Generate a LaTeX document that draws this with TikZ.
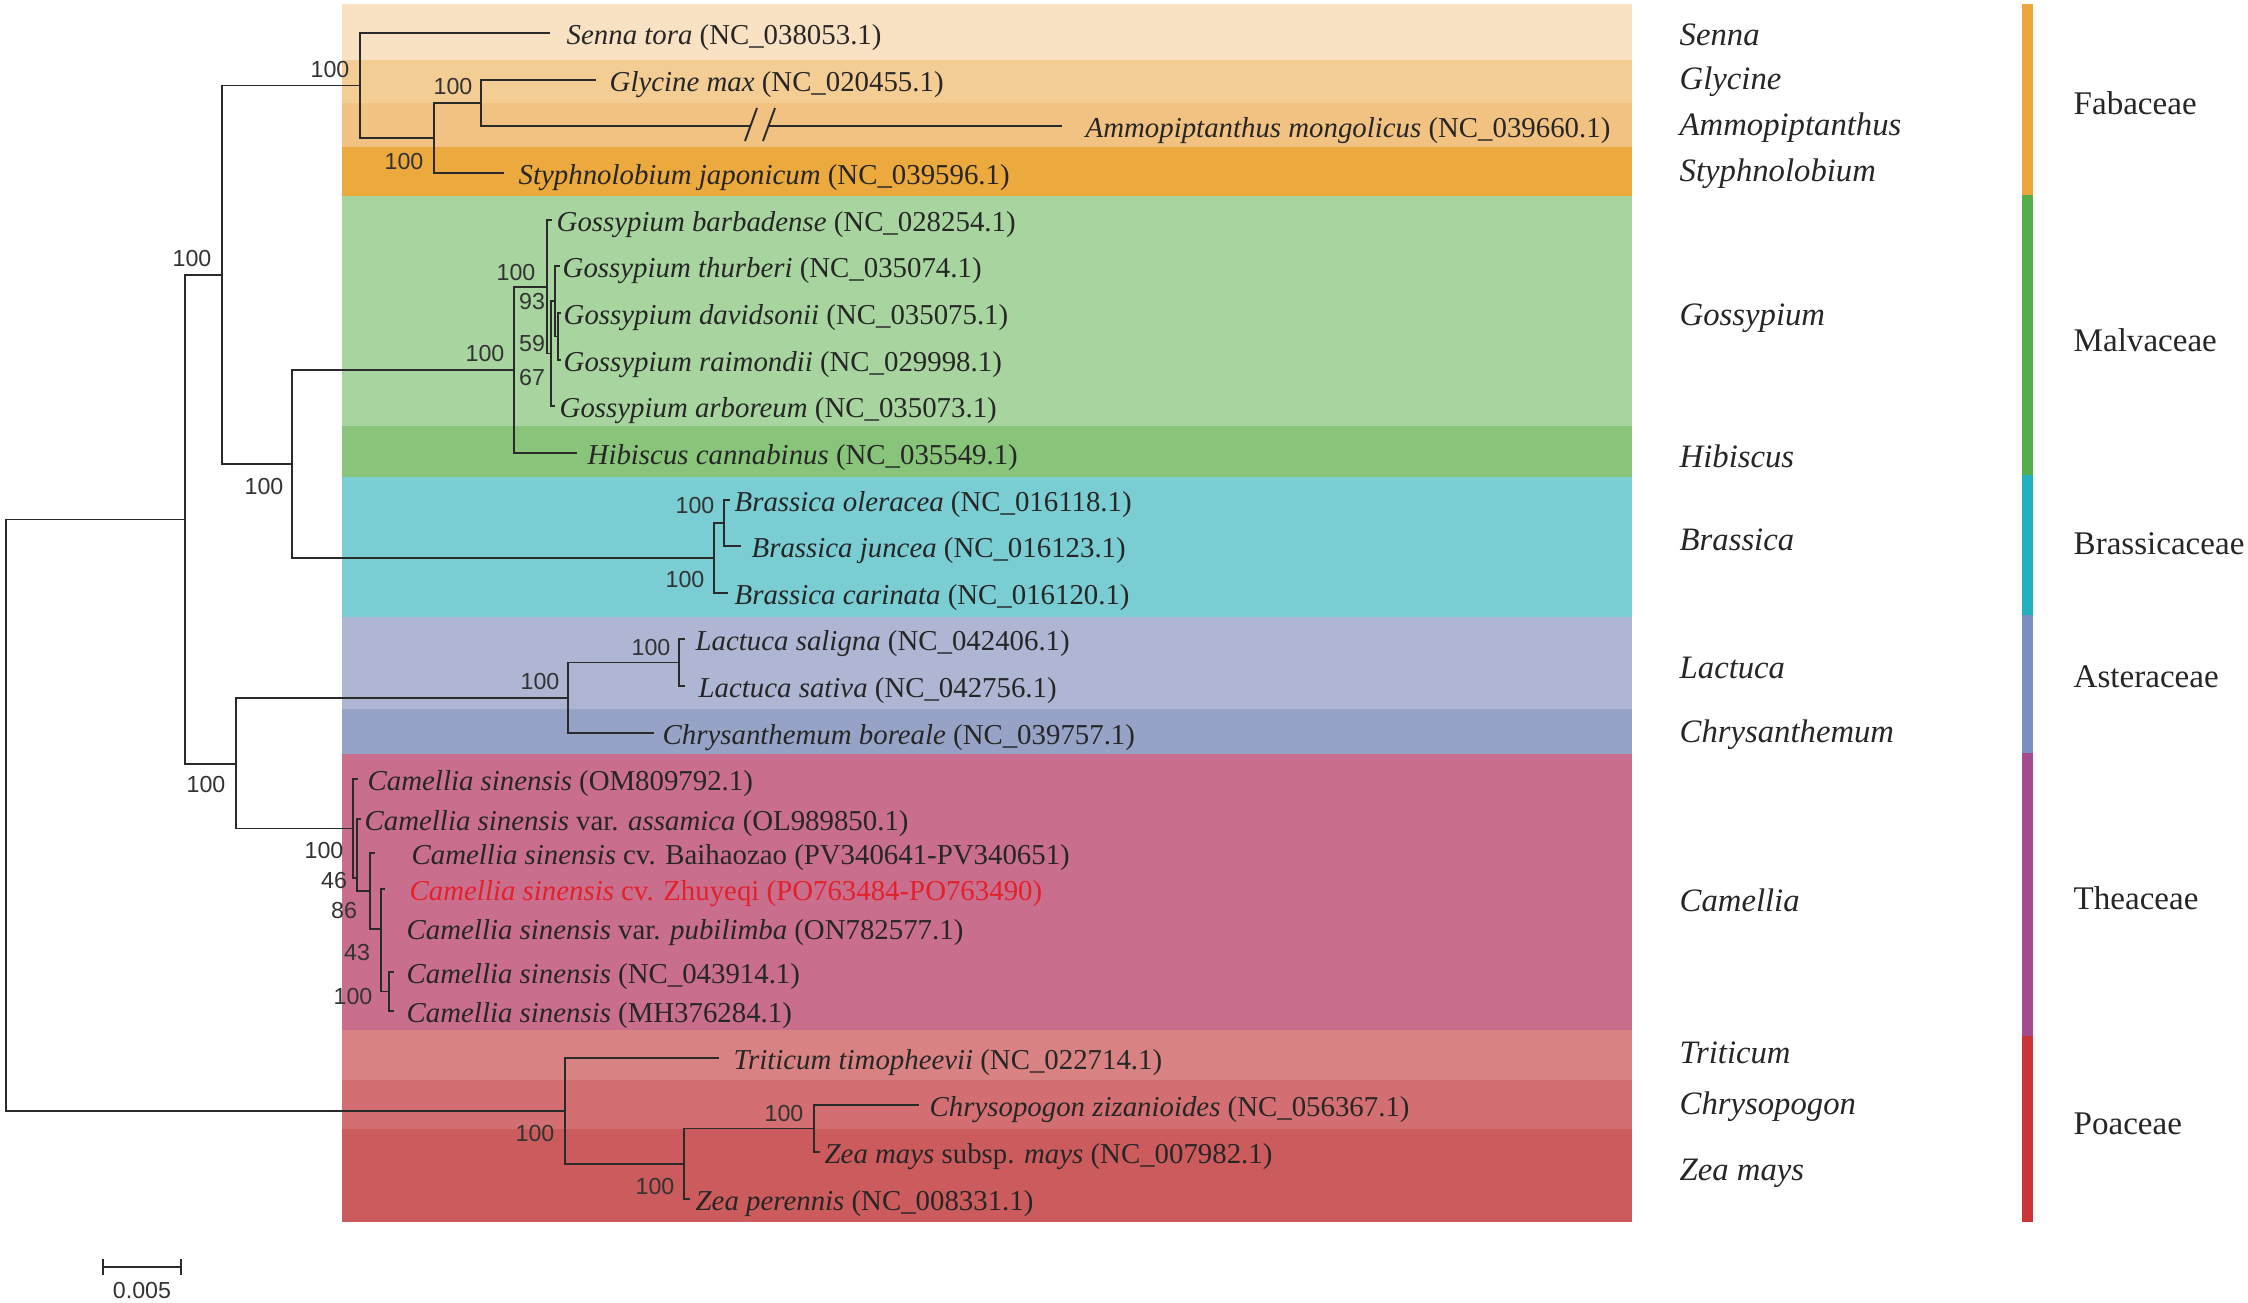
\documentclass[tikz,border=0pt]{standalone}
\usepackage{fontspec}
\setmainfont{Liberation Serif}
\newfontfamily\sansnum{Liberation Sans}
\definecolor{cSenna}{HTML}{F9E2C3}
\definecolor{cGly}{HTML}{F4CD95}
\definecolor{cAmmo}{HTML}{F1C281}
\definecolor{cStyph}{HTML}{ECA93E}
\definecolor{cGoss}{HTML}{A8D59F}
\definecolor{cHib}{HTML}{89C47B}
\definecolor{cBras}{HTML}{79CDD3}
\definecolor{cLact}{HTML}{AFB6D4}
\definecolor{cChrys}{HTML}{96A3C7}
\definecolor{cCam}{HTML}{C96E8D}
\definecolor{cTrit}{HTML}{D88283}
\definecolor{cChp}{HTML}{D36F72}
\definecolor{cZea}{HTML}{CB5B5C}
\definecolor{bFab}{HTML}{EEA53B}
\definecolor{bMal}{HTML}{55AE4B}
\definecolor{bBra}{HTML}{21B1BF}
\definecolor{bAst}{HTML}{7C8DC4}
\definecolor{bThe}{HTML}{A54A8F}
\definecolor{bPoa}{HTML}{CC3535}
\definecolor{treeline}{HTML}{2A2A2A}
\definecolor{bsgray}{HTML}{333333}
\definecolor{zred}{HTML}{E5202B}
\newcommand{\leaffont}{\fontsize{8.2}{9}\selectfont}
\newcommand{\bsfont}{\sansnum\fontsize{6.6}{7}\selectfont}
\newcommand{\genusfont}{\fontsize{9.3}{10}\selectfont\itshape}
\newcommand{\famfont}{\fontsize{9.4}{10}\selectfont}
\begin{document}
\begin{tikzpicture}[x=0.01cm,y=-0.01cm,
  br/.style={draw=treeline, line width=0.55pt},
  leaf/.style={anchor=west, inner sep=0pt, yshift=-0.03cm, font=\leaffont, text=black!85, text height=0.69em, text depth=0.18em},
  bs/.style={inner sep=0pt, font=\bsfont, text=bsgray},
  genus/.style={anchor=west, inner sep=0pt, yshift=-0.03cm, font=\genusfont, text=black!85},
  fam/.style={anchor=west, inner sep=0pt, font=\famfont, text=black!85}]
\useasboundingbox (0,0) rectangle (2248,1302);
\fill[white] (0,0) rectangle (2248,1302);
% colour bands
\fill[cSenna] (342,4) rectangle (1632,60);
\fill[cGly] (342,60) rectangle (1632,103);
\fill[cAmmo] (342,103) rectangle (1632,147);
\fill[cStyph] (342,147) rectangle (1632,196);
\fill[cGoss] (342,196) rectangle (1632,426);
\fill[cHib] (342,426) rectangle (1632,477);
\fill[cBras] (342,477) rectangle (1632,617);
\fill[cLact] (342,617) rectangle (1632,709);
\fill[cChrys] (342,709) rectangle (1632,754);
\fill[cCam] (342,754) rectangle (1632,1030);
\fill[cTrit] (342,1030) rectangle (1632,1080);
\fill[cChp] (342,1080) rectangle (1632,1129);
\fill[cZea] (342,1129) rectangle (1632,1222);
% family bars
\fill[bFab] (2022,4) rectangle (2033,195);
\fill[bMal] (2022,195) rectangle (2033,475);
\fill[bBra] (2022,475) rectangle (2033,615);
\fill[bAst] (2022,615) rectangle (2033,753);
\fill[bThe] (2022,753) rectangle (2033,1036);
\fill[bPoa] (2022,1036) rectangle (2033,1222);
% leaf labels
\node[leaf] (tSenna) at (566,33) {\textit{Senna tora} (NC\_038053.1)};
\node[leaf] (tGly) at (609,80) {\textit{Glycine max} (NC\_020455.1)};
\node[leaf] (tAmmo) at (1085,126) {\textit{Ammopiptanthus mongolicus} (NC\_039660.1)};
\node[leaf] (tStyph) at (518,173) {\textit{Styphnolobium japonicum} (NC\_039596.1)};
\node[leaf] (tGbar) at (556,220) {\textit{Gossypium barbadense} (NC\_028254.1)};
\node[leaf] (tGthu) at (562,266) {\textit{Gossypium thurberi} (NC\_035074.1)};
\node[leaf] (tGdav) at (563,313) {\textit{Gossypium davidsonii} (NC\_035075.1)};
\node[leaf] (tGrai) at (563,360) {\textit{Gossypium raimondii} (NC\_029998.1)};
\node[leaf] (tGarb) at (559,406) {\textit{Gossypium arboreum} (NC\_035073.1)};
\node[leaf] (tHib) at (587,453) {\textit{Hibiscus cannabinus} (NC\_035549.1)};
\node[leaf] (tBole) at (734,500) {\textit{Brassica oleracea} (NC\_016118.1)};
\node[leaf] (tBjun) at (751,546) {\textit{Brassica juncea} (NC\_016123.1)};
\node[leaf] (tBcar) at (734,593) {\textit{Brassica carinata} (NC\_016120.1)};
\node[leaf] (tLsal) at (695,639) {\textit{Lactuca saligna} (NC\_042406.1)};
\node[leaf] (tLsat) at (698,686) {\textit{Lactuca sativa} (NC\_042756.1)};
\node[leaf] (tChry) at (662,733) {\textit{Chrysanthemum boreale} (NC\_039757.1)};
\node[leaf] (tCamOM) at (367,779) {\textit{Camellia sinensis} (OM809792.1)};
\node[leaf] (tCamAs) at (364,819) {\textit{Camellia sinensis} var. \textit{assamica} (OL989850.1)};
\node[leaf] (tCamBa) at (411,853) {\textit{Camellia sinensis} cv. Baihaozao (PV340641-PV340651)};
\node[leaf, text=zred] (tCamZh) at (409,889) {\textit{Camellia sinensis} cv. Zhuyeqi (PO763484-PO763490)};
\node[leaf] (tCamPu) at (406,928) {\textit{Camellia sinensis} var. \textit{pubilimba} (ON782577.1)};
\node[leaf] (tCamNC) at (406,972) {\textit{Camellia sinensis} (NC\_043914.1)};
\node[leaf] (tCamMH) at (406,1011) {\textit{Camellia sinensis} (MH376284.1)};
\node[leaf] (tTrit) at (733,1058) {\textit{Triticum timopheevii} (NC\_022714.1)};
\node[leaf] (tChp) at (929,1105) {\textit{Chrysopogon zizanioides} (NC\_056367.1)};
\node[leaf] (tZmay) at (824,1152) {\textit{Zea mays} subsp. \textit{mays} (NC\_007982.1)};
\node[leaf] (tZper) at (695,1199) {\textit{Zea perennis} (NC\_008331.1)};
% leaf ends
\coordinate (eSenna) at (550,33);
\coordinate (eGly) at (596,80);
\coordinate (eAmA) at (750,126);
\coordinate (eAmB) at (768,126);
\coordinate (eAmmo) at (1062,126);
\coordinate (eStyph) at (504,173);
\coordinate (eGbar) at (552,220);
\coordinate (eGthu) at (560,266);
\coordinate (eGdav) at (561,313);
\coordinate (eGrai) at (561,360);
\coordinate (eGarb) at (555,406);
\coordinate (eHib) at (577,453);
\coordinate (eBole) at (730,500);
\coordinate (eBjun) at (741,546);
\coordinate (eBcar) at (728,593);
\coordinate (eLsal) at (685,639);
\coordinate (eLsat) at (685,686);
\coordinate (eChry) at (654,733);
\coordinate (eCamOM) at (358,779);
\coordinate (eCamAs) at (361,819);
\coordinate (eCamBa) at (375,853);
\coordinate (eCamZh) at (385,889);
\coordinate (eCamNC) at (394,972);
\coordinate (eCamMH) at (394,1011);
\coordinate (eTrit) at (719,1058);
\coordinate (eChp) at (919,1105);
\coordinate (eZmay) at (820,1152);
\coordinate (eZper) at (690,1199);
% internal nodes
\coordinate (F3) at (481,103);
\coordinate (F2) at (434,138);
\coordinate (F) at (360,85.5);
\coordinate (G4) at (558,336.5);
\coordinate (G3) at (555,301);
\coordinate (G2) at (551,353.5);
\coordinate (G1) at (547,287);
\coordinate (M) at (514,370);
\coordinate (B2) at (724,523);
\coordinate (B) at (714,558);
\coordinate (MB) at (292,464);
\coordinate (R) at (222,275);
\coordinate (L) at (679,662.5);
\coordinate (A) at (568,698);
\coordinate (C4) at (389,991.5);
\coordinate (C3) at (381,929);
\coordinate (C2) at (370,891);
\coordinate (C1) at (357,878);
\coordinate (C0) at (353,828.5);
\coordinate (AT) at (236,764);
\coordinate (D) at (185,519.5);
\coordinate (P3) at (814,1128.5);
\coordinate (P2) at (684,1164);
\coordinate (P) at (565,1111);
\coordinate (Root) at (6,815);
% branches
\draw[br] (Root) |- (D);
\draw[br] (Root) |- (P);
\draw[br] (D) |- (R);
\draw[br] (D) |- (AT);
\draw[br] (R) |- (F);
\draw[br] (R) |- (MB);
\draw[br] (F) |- (eSenna);
\draw[br] (F) |- (F2);
\draw[br] (F2) |- (F3);
\draw[br] (F2) |- (eStyph);
\draw[br] (F3) |- (eGly);
\draw[br] (F3) |- (eAmA);
\draw[br] (eAmB) -- (eAmmo);
\coordinate (s1a) at (745,141); \coordinate (s1b) at (757,108);
\coordinate (s2a) at (763,141); \coordinate (s2b) at (775,108);
\draw[br] (s1a) -- (s1b);
\draw[br] (s2a) -- (s2b);
\draw[br] (MB) |- (M);
\draw[br] (MB) |- (B);
\draw[br] (M) |- (G1);
\draw[br] (M) |- (eHib);
\draw[br] (G1) |- (eGbar);
\draw[br] (G1) |- (G2);
\draw[br] (G2) |- (G3);
\draw[br] (G2) |- (eGarb);
\draw[br] (G3) |- (eGthu);
\draw[br] (G3) |- (G4);
\draw[br] (G4) |- (eGdav);
\draw[br] (G4) |- (eGrai);
\draw[br] (B) |- (B2);
\draw[br] (B) |- (eBcar);
\draw[br] (B2) |- (eBole);
\draw[br] (B2) |- (eBjun);
\draw[br] (AT) |- (A);
\draw[br] (AT) |- (C0);
\draw[br] (A) |- (L);
\draw[br] (A) |- (eChry);
\draw[br] (L) |- (eLsal);
\draw[br] (L) |- (eLsat);
\draw[br] (C0) |- (eCamOM);
\draw[br] (C0) |- (C1);
\draw[br] (C1) |- (eCamAs);
\draw[br] (C1) |- (C2);
\draw[br] (C2) |- (eCamBa);
\draw[br] (C2) |- (C3);
\draw[br] (C3) |- (eCamZh);
\draw[br] (C3) |- (C4);
\draw[br] (C4) |- (eCamNC);
\draw[br] (C4) |- (eCamMH);
\draw[br] (P) |- (eTrit);
\draw[br] (P) |- (P2);
\draw[br] (P2) |- (P3);
\draw[br] (P2) |- (eZper);
\draw[br] (P3) |- (eChp);
\draw[br] (P3) |- (eZmay);
% bootstrap values
\node[bs] (b1) at (330,69) {100};
\node[bs] (b2) at (453,86) {100};
\node[bs] (b3) at (404,161) {100};
\node[bs] (b4) at (192,258) {100};
\node[bs] (b5) at (264,486) {100};
\node[bs] (b6) at (516,272) {100};
\node[bs] (b7) at (485,353) {100};
\node[bs] (b8) at (532,301) {93};
\node[bs] (b9) at (532,343) {59};
\node[bs] (b10) at (532,377) {67};
\node[bs] (b11) at (695,505) {100};
\node[bs] (b12) at (685,579) {100};
\node[bs] (b13) at (651,647) {100};
\node[bs] (b14) at (540,681) {100};
\node[bs] (b15) at (206,784) {100};
\node[bs] (b16) at (324,850) {100};
\node[bs] (b17) at (334,880) {46};
\node[bs] (b18) at (344,910) {86};
\node[bs] (b19) at (357,952) {43};
\node[bs] (b20) at (353,996) {100};
\node[bs] (b21) at (784,1113) {100};
\node[bs] (b22) at (535,1133) {100};
\node[bs] (b23) at (655,1186) {100};
% genus labels
\node[genus] (gSenna) at (1679,32) {Senna};
\node[genus] (gGly) at (1679,79) {Glycine};
\node[genus] (gAmmo) at (1679,125) {Ammopiptanthus};
\node[genus] (gStyph) at (1679,171) {Styphnolobium};
\node[genus] (gGoss) at (1679,315) {Gossypium};
\node[genus] (gHib) at (1679,453) {Hibiscus};
\node[genus] (gBras) at (1679,537) {Brassica};
\node[genus] (gLact) at (1679,665) {Lactuca};
\node[genus] (gChry) at (1679,732) {Chrysanthemum};
\node[genus] (gCam) at (1679,897) {Camellia};
\node[genus] (gTrit) at (1679,1050) {Triticum};
\node[genus] (gChp) at (1679,1104) {Chrysopogon};
\node[genus] (gZea) at (1679,1170) {Zea mays};
% family labels
\node[fam] (fFab) at (2073,103) {Fabaceae};
\node[fam] (fMal) at (2073,340) {Malvaceae};
\node[fam] (fBra) at (2073,544) {Brassicaceae};
\node[fam] (fAst) at (2073,677) {Asteraceae};
\node[fam] (fThe) at (2073,898) {Theaceae};
\node[fam] (fPoa) at (2073,1124) {Poaceae};
% scale bar
\coordinate (sbL) at (103,1267);
\coordinate (sbR) at (181,1267);
\draw[br] (sbL) -- (sbR);
\draw[br] ([yshift=0.08cm]sbL) -- ([yshift=-0.08cm]sbL);
\draw[br] ([yshift=0.08cm]sbR) -- ([yshift=-0.08cm]sbR);
\node[bs] (sbT) at (142,1290) {0.005};
\end{tikzpicture}
\end{document}
